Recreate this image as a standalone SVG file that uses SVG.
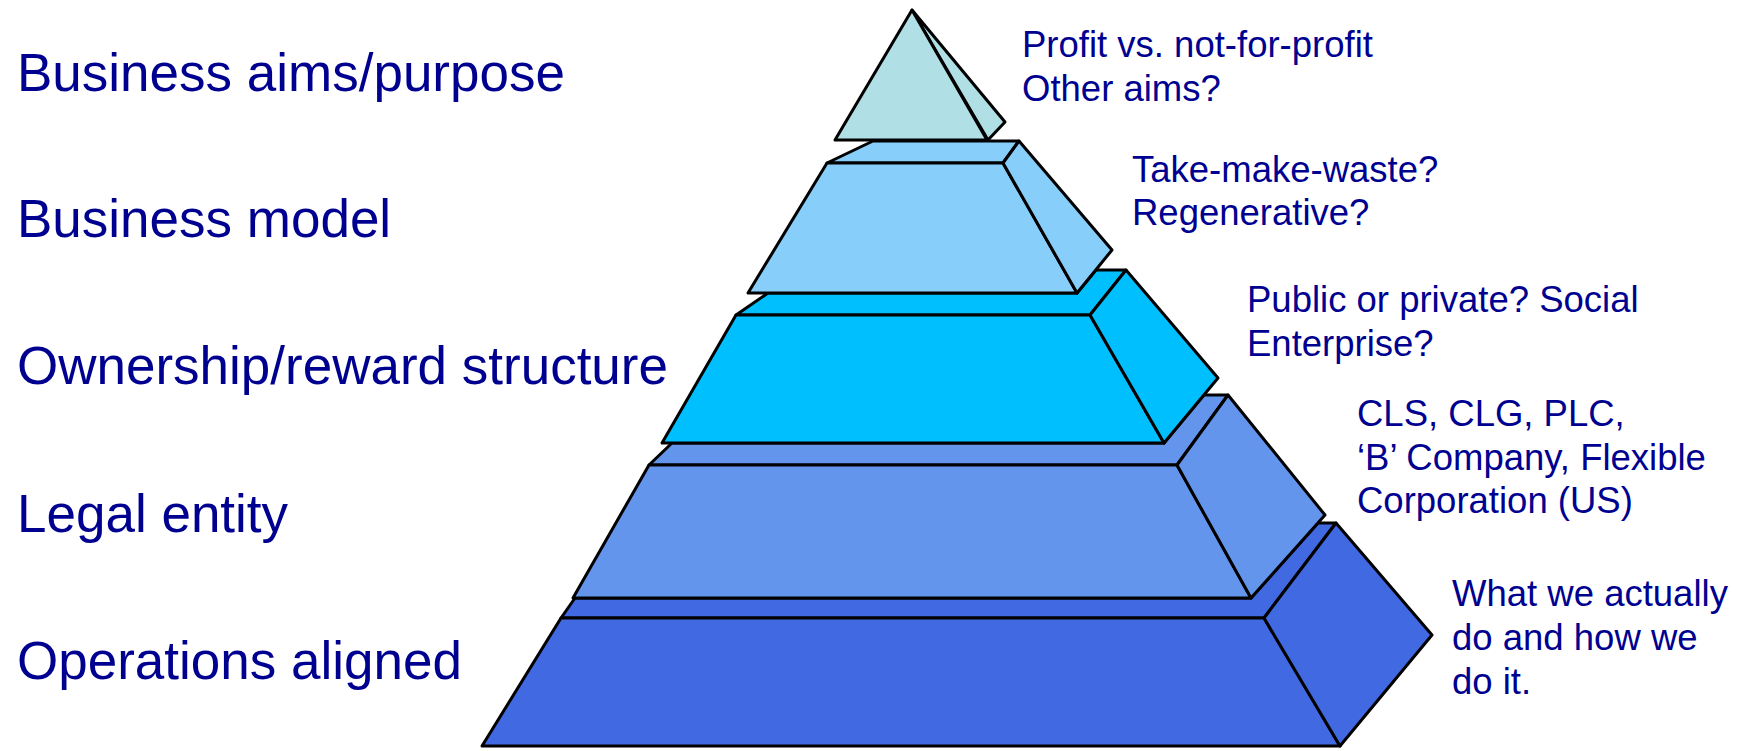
<svg xmlns="http://www.w3.org/2000/svg" width="1746" height="751" viewBox="0 0 1746 751">
<style>
.lbl{font-family:"Liberation Sans",Arial,sans-serif;font-size:53px;fill:#000090}
.note{font-family:"Liberation Sans",Arial,sans-serif;font-size:36.5px;fill:#000090}
.face{stroke:#000;stroke-width:3;stroke-linejoin:round}
.t1{fill:#B0E0E6}.t2{fill:#87CEFA}.t3{fill:#00BFFF}.t4{fill:#6495ED}.t5{fill:#4169E1}
</style>
<rect width="1746" height="751" fill="#fff"/>
<g id="tier5">
<polygon class="face t5" points="561,618 575,598 1251,598 1318,523 1336,523 1264,618"/>
<polygon class="face t5" points="561,618 1264,618 1340,746 482,746"/>
<polygon class="face t5" points="1264,618 1336,523 1432,635 1340,746"/>
</g>
<g id="tier4">
<polygon class="face t4" points="649,465 672,443 1164,443 1204,395 1228,395 1177,465"/>
<polygon class="face t4" points="649,465 1177,465 1251,598 573,598"/>
<polygon class="face t4" points="1177,465 1228,395 1325,515 1251,598"/>
</g>
<g id="tier3">
<polygon class="face t3" points="736,315 768,293 1077,293 1096,270 1126,270 1090,315"/>
<polygon class="face t3" points="736,315 1090,315 1164,443 662,443"/>
<polygon class="face t3" points="1090,315 1126,270 1218,378 1164,443"/>
</g>
<g id="tier2">
<polygon class="face t2" points="827,163 873,141 1019,141 1003,163"/>
<polygon class="face t2" points="827,163 1003,163 1077,293 748,293"/>
<polygon class="face t2" points="1003,163 1019,141 1112,250 1077,293"/>
</g>
<g id="tier1">
<polygon class="face t1" points="912,10 1005,122 988,140"/>
<polygon class="face t1" points="912,10 987,140 835,140"/>
</g>
<g id="labels">
<text class="lbl" x="17" y="91">Business aims/purpose</text>
<text class="lbl" x="17" y="237">Business model</text>
<text class="lbl" x="17" y="384">Ownership/reward structure</text>
<text class="lbl" x="17" y="532">Legal entity</text>
<text class="lbl" x="17" y="679">Operations aligned</text>
</g>
<g id="notes">
<text class="note" x="1022" y="57">Profit vs. not-for-profit</text>
<text class="note" x="1022" y="101">Other aims?</text>
<text class="note" x="1132" y="182">Take-make-waste?</text>
<text class="note" x="1132" y="225">Regenerative?</text>
<text class="note" x="1247" y="312">Public or private? Social</text>
<text class="note" x="1247" y="356">Enterprise?</text>
<text class="note" x="1357" y="426">CLS, CLG, PLC,</text>
<text class="note" x="1357" y="470">‘B’ Company, Flexible</text>
<text class="note" x="1357" y="513">Corporation (US)</text>
<text class="note" x="1452" y="606">What we actually</text>
<text class="note" x="1452" y="650">do and how we</text>
<text class="note" x="1452" y="694">do it.</text>
</g>
</svg>
